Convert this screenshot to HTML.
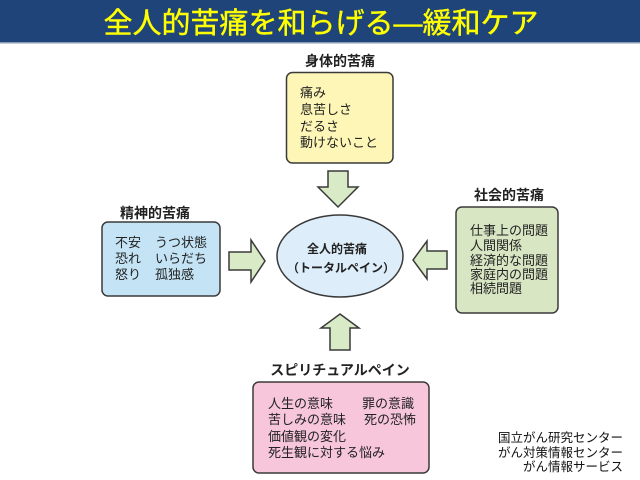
<!DOCTYPE html>
<html><head><meta charset="utf-8">
<style>
html,body{margin:0;padding:0;background:#fff;}
svg{display:block;}
text{font-family:"Liberation Sans","Noto Sans CJK JP",sans-serif;}
</style></head>
<body>
<svg width="640" height="480" viewBox="0 0 640 480" xmlns="http://www.w3.org/2000/svg">
<rect x="0" y="0" width="640" height="480" fill="#ffffff"/>
<rect x="0" y="0" width="640" height="42" fill="#1f4479"/>
<rect x="0" y="42" width="640" height="1.5" fill="#8a9ab0"/>
<text x="321" y="33" font-size="29" fill="#ffff00" stroke="#ffff00" stroke-width="0.4" text-anchor="middle" font-family="Noto Sans CJK JP, sans-serif">全人的苦痛を和らげる―緩和ケア</text>

<!-- physical -->
<text x="340" y="66" font-size="14" font-weight="bold" fill="#222" text-anchor="middle">身体的苦痛</text>
<rect x="286.5" y="72.5" width="106.5" height="90.5" rx="6" fill="#fdf6b6" stroke="#3a3a3a" stroke-width="1.5"/>
<g font-size="13" fill="#222">
<text x="300" y="97">痛み</text>
<text x="300" y="114">息苦しさ</text>
<text x="300" y="131">だるさ</text>
<text x="300" y="147">動けないこと</text>
</g>
<polygon points="328,171 348,171 348,187 358,187 338,207 318,187 328,187" fill="#d8ebc6" stroke="#3a3a3a" stroke-width="1.5" stroke-linejoin="miter"/>

<!-- mental -->
<text x="155" y="218" font-size="14" font-weight="bold" fill="#222" text-anchor="middle">精神的苦痛</text>
<rect x="102" y="222" width="118" height="74" rx="6" fill="#c4e4f6" stroke="#3a3a3a" stroke-width="1.5"/>
<g font-size="13" fill="#222">
<text x="115" y="247">不安</text><text x="155" y="247">うつ状態</text>
<text x="115" y="263">恐れ</text><text x="155" y="263">いらだち</text>
<text x="115" y="279">怒り</text><text x="155" y="279">孤独感</text>
</g>
<polygon points="229,252 251,252 251,240 265,261 251,282 251,270 229,270" fill="#d8ebc6" stroke="#3a3a3a" stroke-width="1.5"/>

<!-- center -->
<ellipse cx="340" cy="256" rx="63" ry="41" fill="#ddeefa" stroke="#3a3a3a" stroke-width="1.5"/>
<text x="337" y="253" font-size="12" font-weight="bold" fill="#222" text-anchor="middle">全人的苦痛</text>
<text x="341" y="272" font-size="12" font-weight="bold" fill="#222" text-anchor="middle">（トータルペイン）</text>

<!-- social -->
<text x="509" y="200" font-size="14" font-weight="bold" fill="#222" text-anchor="middle">社会的苦痛</text>
<rect x="456" y="207" width="102" height="106" rx="6" fill="#d9e6c4" stroke="#3a3a3a" stroke-width="1.5"/>
<g font-size="13" fill="#222">
<text x="470" y="235">仕事上の問題</text>
<text x="470" y="250">人間関係</text>
<text x="470" y="265">経済的な問題</text>
<text x="470" y="279">家庭内の問題</text>
<text x="470" y="293">相続問題</text>
</g>
<polygon points="447,251 427,251 427,241 413,260 427,279 427,269 447,269" fill="#d8ebc6" stroke="#3a3a3a" stroke-width="1.5"/>

<!-- spiritual -->
<polygon points="340,314 359,328 350,328 350,350 330,350 330,328 321,328" fill="#d8ebc6" stroke="#3a3a3a" stroke-width="1.5"/>
<text x="340" y="375" font-size="14" font-weight="bold" fill="#222" text-anchor="middle">スピリチュアルペイン</text>
<rect x="253" y="382" width="176" height="91" rx="6" fill="#f7c6da" stroke="#3a3a3a" stroke-width="1.5"/>
<g font-size="13" fill="#222">
<text x="268" y="408">人生の意味</text><text x="362" y="408">罪の意識</text>
<text x="268" y="424">苦しみの意味</text><text x="364" y="424">死の恐怖</text>
<text x="268" y="441">価値観の変化</text>
<text x="268" y="457">死生観に対する悩み</text>
</g>

<!-- credits -->
<g font-size="12.5" fill="#111" text-anchor="end">
<text x="623" y="442">国立がん研究センター</text>
<text x="623" y="457">がん対策情報センター</text>
<text x="623" y="471">がん情報サービス</text>
</g>
</svg>
</body></html>
